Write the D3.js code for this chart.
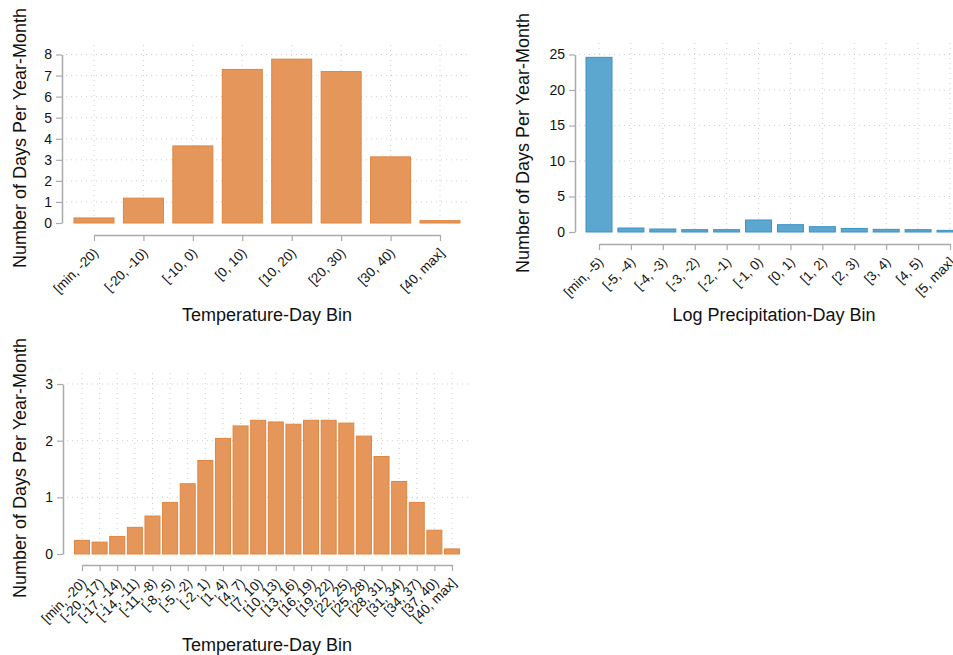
<!DOCTYPE html>
<html>
<head>
<meta charset="utf-8">
<script src="https://cdn.jsdelivr.net/npm/d3@7"></script>
<style>
  body { margin: 0; background: #fff; }
  svg { display: block; font-family: "Liberation Sans", Arial, sans-serif; }
</style>
</head>
<body>
<div class="svg-wrap"></div>
<script>
// data
const tempBins = ["[min, -20)", "[-20, -10)", "[-10, 0)", "[0, 10)", "[10, 20)", "[20, 30)", "[30, 40)", "[40, max]"];
const tempDays = [0.24, 1.18, 3.66, 7.29, 7.78, 7.19, 3.14, 0.11];
const tempTicks = [0, 1, 2, 3, 4, 5, 6, 7, 8];

const precipBins = ["[min, -5)", "[-5, -4)", "[-4, -3)", "[-3, -2)", "[-2, -1)", "[-1, 0)", "[0, 1)", "[1, 2)", "[2, 3)", "[3, 4)", "[4, 5)", "[5, max]"];
const precipDays = [24.6, 0.56, 0.42, 0.33, 0.33, 1.69, 1.03, 0.75, 0.5, 0.37, 0.33, 0.23];
const precipTicks = [0, 5, 10, 15, 20, 25];

const fineBins = ["[min, -20)", "[-20, -17)", "[-17, -14)", "[-14, -11)", "[-11, -8)", "[-8, -5)", "[-5, -2)", "[-2, 1)", "[1, 4)", "[4, 7)", "[7, 10)", "[10, 13)", "[13, 16)", "[16, 19)", "[19, 22)", "[22, 25)", "[25, 28)", "[28, 31)", "[31, 34)", "[34, 37)", "[37, 40)", "[40, max]"];
const fineDays = [0.24, 0.21, 0.31, 0.47, 0.67, 0.91, 1.24, 1.65, 2.04, 2.26, 2.36, 2.33, 2.29, 2.36, 2.36, 2.31, 2.08, 1.72, 1.28, 0.91, 0.42, 0.09];
const fineTicks = [0, 1, 2, 3];

const svg = d3.select(".svg-wrap")
  .append("svg")
  .attr("width", 953)
  .attr("height", 655)
  .style("background-color", "white");

function drawPanel(p) {
  const g = svg.append("g");
  const x = d3.scalePoint().domain(p.cats).range([p.xFirst, p.xLast]);
  const y = d3.scaleLinear().domain([0, d3.max(p.ticks)]).range([p.y0, p.yTop]);

  // dotted grid
  g.selectAll(".vgrid").data(p.cats).enter().append("line")
    .attr("x1", d => x(d)).attr("x2", d => x(d))
    .attr("y1", p.gridTop).attr("y2", p.y0)
    .attr("stroke", "#cfcfcf").attr("stroke-dasharray", "1,4");
  g.selectAll(".hgrid").data(p.ticks.slice(1)).enter().append("line")
    .attr("x1", p.axisX + 4).attr("x2", p.gridRight)
    .attr("y1", d => y(d)).attr("y2", d => y(d))
    .attr("stroke", "#cfcfcf").attr("stroke-dasharray", "1,4");

  // bars
  g.selectAll("rect").data(p.vals).enter().append("rect")
    .attr("x", (d, i) => x(p.cats[i]) - p.barW / 2)
    .attr("y", d => y(d))
    .attr("width", p.barW)
    .attr("height", d => p.y0 - y(d))
    .attr("fill", p.fill)
    .attr("stroke", p.stroke)
    .attr("stroke-width", 1);

  // y axis
  const yAxis = g.append("g")
    .attr("transform", `translate(${p.axisX},0)`)
    .call(d3.axisLeft(y).tickValues(p.ticks).tickFormat(d3.format("d"))
      .tickSize(6).tickPadding(4).tickSizeOuter(0));
  yAxis.select(".domain").attr("stroke", "#aaa").attr("stroke-width", 1.5);
  yAxis.selectAll(".tick line").attr("stroke", "#aaa").attr("stroke-width", 1.2);
  yAxis.selectAll(".tick text").attr("font-size", 14).attr("fill", "#111")
    .attr("font-family", "Liberation Sans, Arial, sans-serif");

  // x axis
  const xAxis = g.append("g")
    .attr("transform", `translate(0,${p.xAxisY})`)
    .call(d3.axisBottom(x).tickSize(6).tickSizeOuter(0).tickPadding(3));
  xAxis.select(".domain").attr("stroke", "#aaa").attr("stroke-width", 1.5);
  xAxis.selectAll(".tick line").attr("stroke", "#aaa").attr("stroke-width", 1.2);
  xAxis.selectAll(".tick text")
    .attr("font-size", 13.5).attr("fill", "#111")
    .attr("font-family", "Liberation Sans, Arial, sans-serif")
    .attr("text-anchor", "end")
    .attr("dy", "0.35em")
    .attr("transform", "translate(-5,9) rotate(-45)");

  // titles
  g.append("text")
    .attr("transform", `translate(${p.ylabX},${p.ylabY}) rotate(-90)`)
    .attr("text-anchor", "middle")
    .attr("dy", "0.35em")
    .attr("font-size", 18).attr("fill", "#111")
    .text("Number of Days Per Year-Month");
  g.append("text")
    .attr("x", p.xlabX).attr("y", p.xlabY)
    .attr("text-anchor", "middle")
    .attr("font-size", 18).attr("fill", "#111")
    .text(p.xTitle);
}

const orange = { fill: "#e5975b", stroke: "#e0853f" };
const blue = { fill: "#5ca7cf", stroke: "#3f91c3" };

drawPanel(Object.assign({
  cats: tempBins, vals: tempDays, ticks: tempTicks,
  axisX: 62, y0: 223, yTop: 54.5, xFirst: 94, xLast: 440, barW: 40,
  xAxisY: 235, gridTop: 45, gridRight: 468,
  ylabX: 20, ylabY: 138, xlabX: 267, xlabY: 321, xTitle: "Temperature-Day Bin"
}, orange));

drawPanel(Object.assign({
  cats: precipBins, vals: precipDays, ticks: precipTicks,
  axisX: 575, y0: 232, yTop: 54.5, xFirst: 599, xLast: 950, barW: 26,
  xAxisY: 244, gridTop: 43, gridRight: 953,
  ylabX: 523, ylabY: 143, xlabX: 774, xlabY: 321, xTitle: "Log Precipitation-Day Bin"
}, blue));

drawPanel(Object.assign({
  cats: fineBins, vals: fineDays, ticks: fineTicks,
  axisX: 63, y0: 554, yTop: 384, xFirst: 82, xLast: 452, barW: 15,
  xAxisY: 565, gridTop: 373, gridRight: 468,
  ylabX: 20, ylabY: 468, xlabX: 267, xlabY: 651, xTitle: "Temperature-Day Bin"
}, orange));
</script>
</body>
</html>
